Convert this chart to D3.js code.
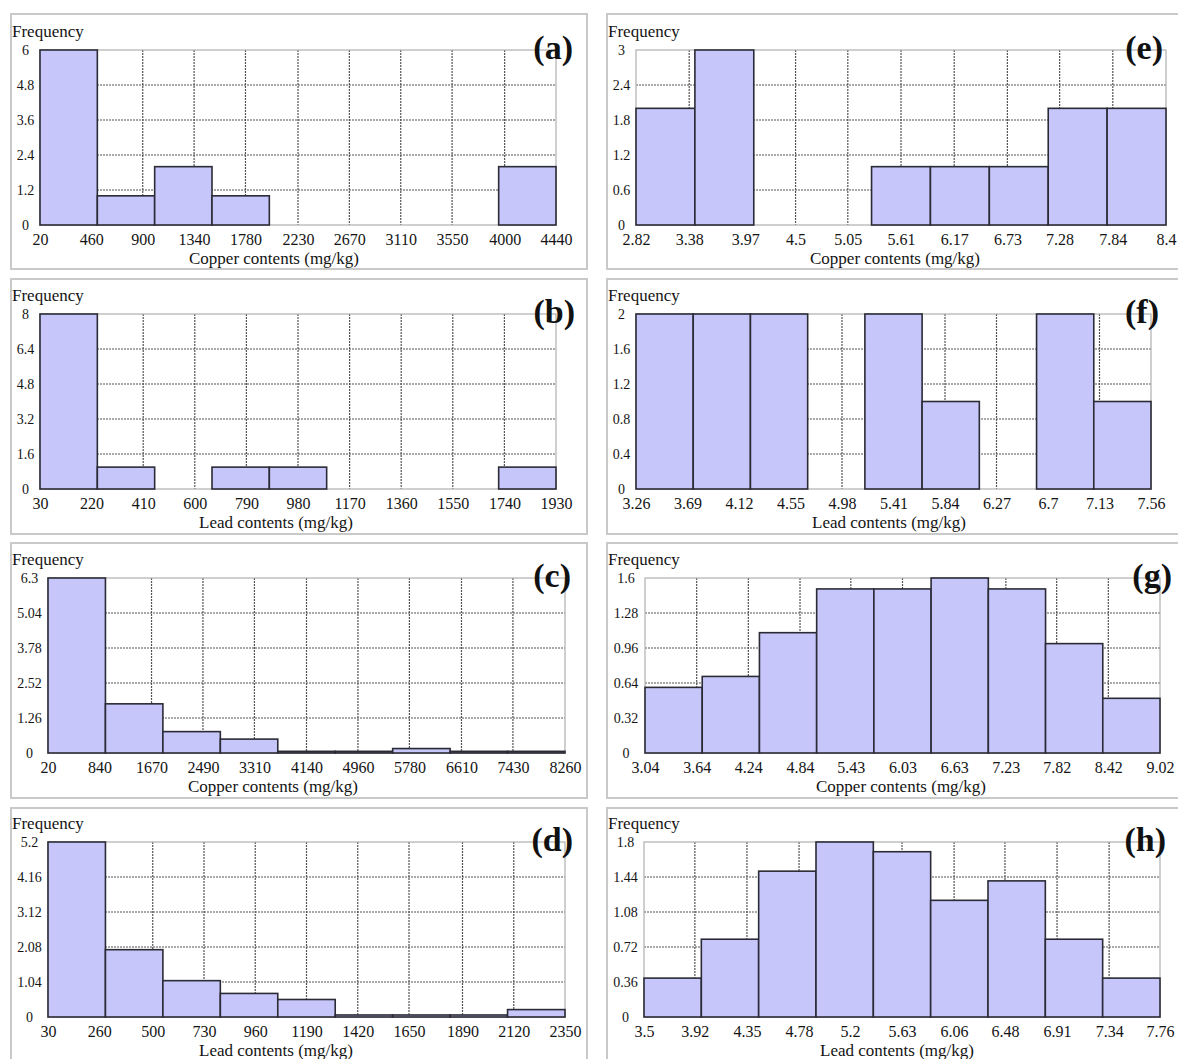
<!DOCTYPE html>
<html>
<head>
<meta charset="utf-8">
<script src="https://cdn.jsdelivr.net/npm/d3@7"></script>
<style>
  body { margin: 0; background: #fff; }
  svg { display: block; }
</style>
</head>
<body>
<svg id="chart" width="1178" height="1059"></svg>
<script>
// ---- Histogram data: bin frequencies, value range, axis ticks ----
const copperTitle = "Copper contents (mg/kg)";
const leadTitle = "Lead contents (mg/kg)";

// (a) copper
const aCounts = [6, 1, 2, 1, 0, 0, 0, 0, 2];
const aRange = [20, 4440];
const aXTicks = ["20", "460", "900", "1340", "1780", "2230", "2670", "3110", "3550", "4000", "4440"];
const aYTicks = [0, 1.2, 2.4, 3.6, 4.8, 6];

// (b) lead
const bCounts = [8, 1, 0, 1, 1, 0, 0, 0, 1];
const bRange = [30, 1930];
const bXTicks = ["30", "220", "410", "600", "790", "980", "1170", "1360", "1550", "1740", "1930"];
const bYTicks = [0, 1.6, 3.2, 4.8, 6.4, 8];

// (c) copper
const cCounts = [6.3, 1.77, 0.77, 0.5, 0.06, 0.06, 0.16, 0.06, 0.06];
const cRange = [20, 8260];
const cXTicks = ["20", "840", "1670", "2490", "3310", "4140", "4960", "5780", "6610", "7430", "8260"];
const cYTicks = [0, 1.26, 2.52, 3.78, 5.04, 6.3];

// (d) lead
const dCounts = [5.2, 2.0, 1.08, 0.7, 0.52, 0.06, 0.06, 0.06, 0.22];
const dRange = [30, 2350];
const dXTicks = ["30", "260", "500", "730", "960", "1190", "1420", "1650", "1890", "2120", "2350"];
const dYTicks = [0, 1.04, 2.08, 3.12, 4.16, 5.2];

// (e) copper
const eCounts = [2, 3, 0, 0, 1, 1, 1, 2, 2];
const eRange = [2.82, 8.4];
const eXTicks = ["2.82", "3.38", "3.97", "4.5", "5.05", "5.61", "6.17", "6.73", "7.28", "7.84", "8.4"];
const eYTicks = [0, 0.6, 1.2, 1.8, 2.4, 3];

// (f) lead
const fCounts = [2, 2, 2, 0, 2, 1, 0, 2, 1];
const fRange = [3.26, 7.56];
const fXTicks = ["3.26", "3.69", "4.12", "4.55", "4.98", "5.41", "5.84", "6.27", "6.7", "7.13", "7.56"];
const fYTicks = [0, 0.4, 0.8, 1.2, 1.6, 2];

// (g) copper
const gCounts = [0.6, 0.7, 1.1, 1.5, 1.5, 1.6, 1.5, 1.0, 0.5];
const gRange = [3.04, 9.02];
const gXTicks = ["3.04", "3.64", "4.24", "4.84", "5.43", "6.03", "6.63", "7.23", "7.82", "8.42", "9.02"];
const gYTicks = [0, 0.32, 0.64, 0.96, 1.28, 1.6];

// (h) lead
const hCounts = [0.4, 0.8, 1.5, 1.8, 1.7, 1.2, 1.4, 0.8, 0.4];
const hRange = [3.5, 7.76];
const hXTicks = ["3.5", "3.92", "4.35", "4.78", "5.2", "5.63", "6.06", "6.48", "6.91", "7.34", "7.76"];
const hYTicks = [0, 0.36, 0.72, 1.08, 1.44, 1.8];

const panels = [
  { id: "a", counts: aCounts, range: aRange, xTicks: aXTicks, yTicks: aYTicks, title: copperTitle },
  { id: "b", counts: bCounts, range: bRange, xTicks: bXTicks, yTicks: bYTicks, title: leadTitle },
  { id: "c", counts: cCounts, range: cRange, xTicks: cXTicks, yTicks: cYTicks, title: copperTitle },
  { id: "d", counts: dCounts, range: dRange, xTicks: dXTicks, yTicks: dYTicks, title: leadTitle },
  { id: "e", counts: eCounts, range: eRange, xTicks: eXTicks, yTicks: eYTicks, title: copperTitle },
  { id: "f", counts: fCounts, range: fRange, xTicks: fXTicks, yTicks: fYTicks, title: leadTitle },
  { id: "g", counts: gCounts, range: gRange, xTicks: gXTicks, yTicks: gYTicks, title: copperTitle },
  { id: "h", counts: hCounts, range: hRange, xTicks: hXTicks, yTicks: hYTicks, title: leadTitle }
];

// ---- Layout: frame box, plot area and label anchors for each panel ----
const boxTop = [14, 279, 543, 808];
const plotTop = [50, 314, 578, 842];
const boxHeight = 255;
const plotHeight = 175;
const layout = {
  a: { col: 0, row: 0, left: 40,  right: 556,  titleX: 274, letterX: 573 },
  b: { col: 0, row: 1, left: 40,  right: 556,  titleX: 276, letterX: 575 },
  c: { col: 0, row: 2, left: 48,  right: 565,  titleX: 273, letterX: 571 },
  d: { col: 0, row: 3, left: 48,  right: 565,  titleX: 276, letterX: 573 },
  e: { col: 1, row: 0, left: 636, right: 1166, titleX: 895, letterX: 1163 },
  f: { col: 1, row: 1, left: 636, right: 1151, titleX: 889, letterX: 1159 },
  g: { col: 1, row: 2, left: 645, right: 1160, titleX: 901, letterX: 1172 },
  h: { col: 1, row: 3, left: 644, right: 1160, titleX: 897, letterX: 1166 }
};
const colBox = [{ x: 11, w: 576 }, { x: 607, w: 600 }];

const FONT = "'Liberation Serif', 'Times New Roman', serif";
const BAR_FILL = "#c6c6fb";
const BAR_STROKE = "#2b2b36";
const GRID = "#555";

const svg = d3.select("#chart");
svg.append("rect").attr("width", 1178).attr("height", 1059).attr("fill", "#fff");

panels.forEach(p => {
  const L = layout[p.id];
  const box = colBox[L.col];
  const boxY = boxTop[L.row];
  const top = plotTop[L.row];
  const bottom = top + plotHeight;
  const g = svg.append("g").attr("class", "panel-" + p.id);

  // outer frame
  g.append("rect")
    .attr("x", box.x).attr("y", boxY)
    .attr("width", box.w).attr("height", boxHeight)
    .attr("fill", "#fff").attr("stroke", "#c9c9c9").attr("stroke-width", 2);

  const x = d3.scaleLinear().domain(p.range).range([L.left, L.right]);
  const yMax = p.yTicks[p.yTicks.length - 1];
  const y = d3.scaleLinear().domain([0, yMax]).range([bottom, top]);
  const xVals = p.xTicks.map(Number);

  // dotted grid
  const grid = g.append("g").attr("stroke", GRID).attr("stroke-width", 1.2)
    .attr("stroke-dasharray", "2,1");
  grid.selectAll("line.h").data(p.yTicks.slice(1, -1)).join("line")
    .attr("class", "h")
    .attr("x1", L.left).attr("x2", L.right)
    .attr("y1", d => y(d)).attr("y2", d => y(d));
  grid.selectAll("line.v").data(xVals.slice(1, -1)).join("line")
    .attr("class", "v")
    .attr("x1", d => x(d)).attr("x2", d => x(d))
    .attr("y1", top).attr("y2", bottom);

  // plot border
  g.append("rect")
    .attr("x", L.left).attr("y", top)
    .attr("width", L.right - L.left).attr("height", bottom - top)
    .attr("fill", "none").attr("stroke", "#b0b0b0").attr("stroke-width", 1.2);

  // histogram bars (equal-width bins over the value range)
  const n = p.counts.length;
  const binW = (p.range[1] - p.range[0]) / n;
  const bins = p.counts.map((v, i) => ({ x0: p.range[0] + i * binW, x1: p.range[0] + (i + 1) * binW, v }));
  g.selectAll("rect.bar").data(bins.filter(b => b.v > 0)).join("rect")
    .attr("class", "bar")
    .attr("x", b => x(b.x0)).attr("y", b => y(b.v))
    .attr("width", b => x(b.x1) - x(b.x0))
    .attr("height", b => y(0) - y(b.v))
    .attr("fill", BAR_FILL).attr("stroke", BAR_STROKE).attr("stroke-width", 1.6);

  // x axis labels
  const xAxis = d3.axisBottom(x).tickValues(xVals)
    .tickFormat((d, i) => p.xTicks[i]).tickSize(0).tickPadding(9);
  const xg = g.append("g").attr("transform", `translate(0,${bottom})`).call(xAxis);
  xg.select(".domain").remove();
  xg.attr("font-family", FONT).attr("font-size", 16);
  xg.selectAll("text").attr("fill", "#141414");

  // y axis labels, centred in the margin left of the plot
  const cx = (box.x + L.left) / 2;
  const yAxis = d3.axisLeft(y).tickValues(p.yTicks)
    .tickFormat(d3.format("~g")).tickSize(0).tickPadding(L.left - cx);
  const yg = g.append("g").attr("transform", `translate(${L.left},0)`).call(yAxis);
  yg.select(".domain").remove();
  yg.attr("font-family", FONT).attr("font-size", 14);
  yg.selectAll("text").attr("text-anchor", "middle").attr("fill", "#141414");

  // captions
  g.append("text").attr("x", box.x + 1).attr("y", top - 13)
    .attr("font-family", FONT).attr("font-size", 17).attr("fill", "#141414")
    .text("Frequency");
  g.append("text").attr("x", L.titleX).attr("y", bottom + 39)
    .attr("text-anchor", "middle")
    .attr("font-family", FONT).attr("font-size", 17).attr("fill", "#141414")
    .text(p.title);
  g.append("text").attr("x", L.letterX).attr("y", top + 9)
    .attr("text-anchor", "end")
    .attr("font-family", FONT).attr("font-size", 34).attr("font-weight", "bold")
    .attr("fill", "#111")
    .text(`(${p.id})`);
});
</script>
</body>
</html>
